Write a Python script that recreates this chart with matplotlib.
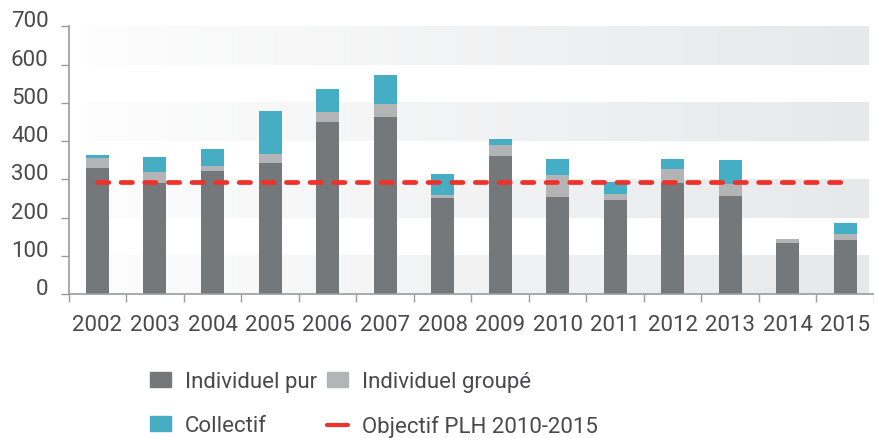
import numpy as np
import matplotlib
matplotlib.use("Agg")
import matplotlib.pyplot as plt
from matplotlib.patches import Patch
from matplotlib.lines import Line2D
from matplotlib.colors import LinearSegmentedColormap

# data
years = ["2002", "2003", "2004", "2005", "2006", "2007", "2008",
         "2009", "2010", "2011", "2012", "2013", "2014", "2015"]
individuel_pur = [330, 292, 322, 344, 451, 464, 252, 362, 254, 246, 291, 257, 135, 141]
individuel_groupe = [26, 28, 13, 23, 25, 33, 7, 28, 58, 16, 36, 31, 10, 16]
collectif = [7, 38, 45, 111, 60, 75, 55, 16, 41, 31, 27, 63, 0, 28]
objectif_plh = 293

yticks = [0, 100, 200, 300, 400, 500, 600, 700]

c_pur = "#75787b"
c_groupe = "#b2b4b5"
c_coll = "#45adc4"
c_obj = "#ee312b"
c_text = "#4a4a4c"
c_axis = "#9a9b9d"

plt.rcParams['font.family'] = ['Roboto', 'DejaVu Sans']

fig = plt.figure(figsize=(8.74, 4.39), dpi=100)
ax = fig.add_axes([68.7 / 874, 143.7 / 439, 1 - 68.7 / 874, 268 / 439])

x = np.arange(len(years))
xmax = 13.4

# gradient bands in the background
grad = np.linspace(0, 1, 256).reshape(1, -1)
cmap = LinearSegmentedColormap.from_list("band", ["#fdfdfd", "#e7e8ea"])
for y0 in [0, 200, 400, 600]:
    ax.imshow(grad, extent=(-0.18, xmax, y0, y0 + 100), aspect='auto',
              cmap=cmap, zorder=0, interpolation='bilinear')

w = 0.4
pur = np.array(individuel_pur)
grp = np.array(individuel_groupe)
col = np.array(collectif)
ax.bar(x, pur, w, color=c_pur, zorder=2)
ax.bar(x, grp, w, bottom=pur, color=c_groupe, zorder=2)
ax.bar(x, col, w, bottom=pur + grp, color=c_coll, zorder=2)

obj, = ax.plot([x[0], x[-1]], [objectif_plh, objectif_plh], color=c_obj,
               lw=3.4, solid_capstyle='round', dash_capstyle='round', zorder=3)
obj.set_dashes((2.4, 2.6))

ax.set_xlim(-0.5, xmax)
ax.set_ylim(0, 700)

ax.set_xticks(x)
ax.set_xticklabels(years)
ax.set_xticks(np.arange(-0.5, 14, 1), minor=True)
ax.tick_params(axis='x', which='major', length=0, pad=14, labelsize=16, labelcolor=c_text)
ax.tick_params(axis='x', which='minor', length=6, width=1, color=c_axis)

ax.set_yticks(yticks)
ax.tick_params(axis='y', length=5.5, width=1, color=c_axis, pad=9,
               labelsize=16, labelcolor=c_text)
for lab in ax.get_yticklabels():
    lab.set_va('baseline')

for s in ['top', 'right']:
    ax.spines[s].set_visible(False)
for s in ['left', 'bottom']:
    ax.spines[s].set_color(c_axis)
    ax.spines[s].set_linewidth(1.2)

handles = [Patch(color=c_pur), Patch(color=c_coll), Patch(color=c_groupe),
           Line2D([0], [0], color=c_obj, lw=3, solid_capstyle='round')]
labels = ["Individuel pur", "Collectif", "Individuel groupé", "Objectif PLH 2010-2015"]
fig.legend(handles, labels, ncol=2, loc='upper left', bbox_to_anchor=(150 / 874, 1 - 372 / 439),
           frameon=False, fontsize=16, labelcolor=c_text, handlelength=0.95,
           handleheight=0.68, handletextpad=0.63, columnspacing=0.45,
           labelspacing=1.05, borderaxespad=0, borderpad=0)

fig.savefig("out.png", dpi=100)
